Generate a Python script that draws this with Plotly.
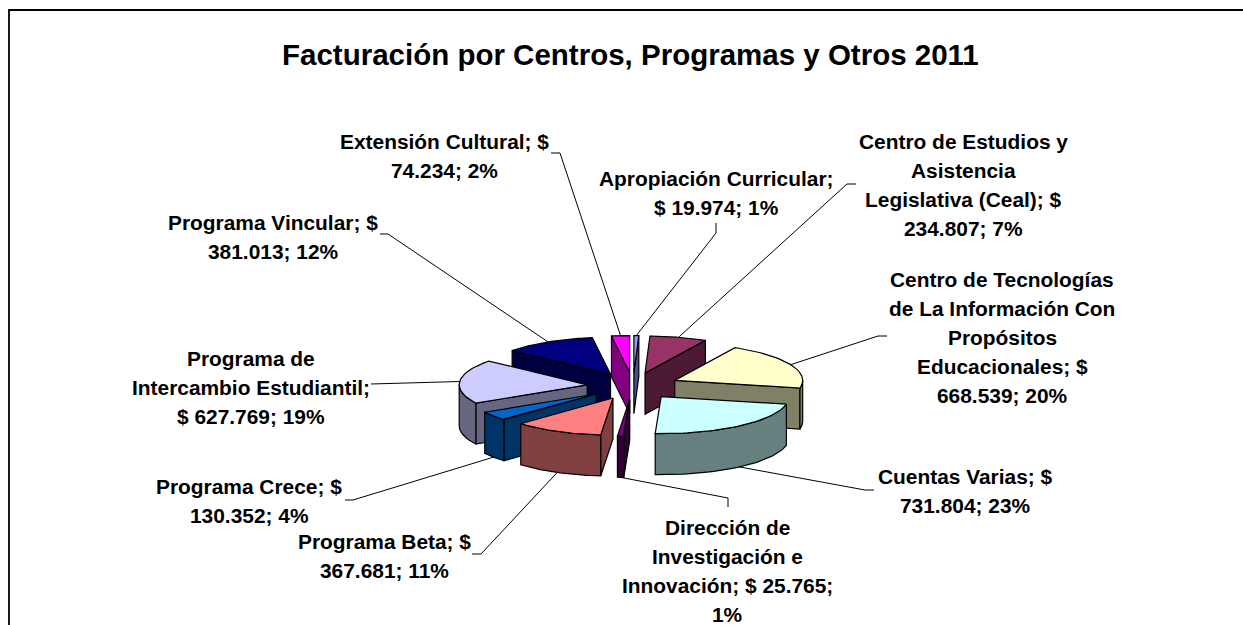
import numpy as np
import plotly.graph_objects as go

# ---- data ----
categories = ["Apropiación Curricular", "Centro de Estudios y Asistencia Legislativa (Ceal)",
              "Centro de Tecnologías de La Información Con Propósitos Educacionales",
              "Cuentas Varias", "Dirección de Investigación e Innovación", "Programa Beta",
              "Programa Crece", "Programa de Intercambio Estudiantil", "Programa Vincular",
              "Extensión Cultural"]
values = [19974, 234807, 668539, 731804, 25765, 367681, 130352, 627769, 381013, 74234]
top_colors = ["#9999FF", "#993366", "#FFFFCC", "#CCFFFF", "#800080", "#FF8080",
              "#0066CC", "#CCCCFF", "#000080", "#FF00FF"]
side_colors = ["#4C4C80", "#4D1A33", "#808066", "#668080", "#330033", "#804040",
               "#003366", "#666680", "#000040", "#800080"]
label_lines = [
    ["Apropiación Curricular;", "$ 19.974; 1%"],
    ["Centro de Estudios y", "Asistencia", "Legislativa (Ceal); $", "234.807; 7%"],
    ["Centro de Tecnologías", "de La Información Con", "Propósitos", "Educacionales; $", "668.539; 20%"],
    ["Cuentas Varias; $", "731.804; 23%"],
    ["Dirección de", "Investigación e", "Innovación; $ 25.765;", "1%"],
    ["Programa Beta; $", "367.681; 11%"],
    ["Programa Crece; $", "130.352; 4%"],
    ["Programa de", "Intercambio Estudiantil;", "$ 627.769; 19%"],
    ["Programa Vincular; $", "381.013; 12%"],
    ["Extensión Cultural; $", "74.234; 2%"],
]
title_text = "Facturación por Centros, Programas y Otros 2011"

# ---- layout of the drawing (pixel-based axes) ----
W, H = 1243, 625
CX, CY, R, TILT, DEPTH, EXPLODE = 633, 386, 128, 0.29, 41, 46
label_x = [716, 963, 1002, 965, 727, 384, 249, 251, 273, 444]
label_y = [178, 141, 279, 476, 527, 541, 486, 358, 222, 141]
LINE_STEP = 29
# label end of each leader line: tip, then elbow
leader_out = [[(716, 223), (716, 233)], [(856, 184), (847, 184)], [(887, 336), (878, 336)],
              [(874, 490), (865, 490)], [(728, 507), (728, 498)], [(472, 554), (481, 554)],
              [(345, 500), (353, 500)], [(371, 384), (379, 384)],
              [(380, 234), (388, 234)], [(551, 153), (560, 153)]]

total = sum(values)
cum = np.concatenate([[0], np.cumsum(values)]) / total * 2 * np.pi


def px(theta, r, off_x, off_y, z=0):
    return (CX + off_x + r * np.sin(theta), CY + off_y - r * TILT * np.cos(theta) + z)


fig = go.Figure()


def poly(pts, color):
    xs, ys = zip(*pts)
    fig.add_trace(go.Scatter(x=list(xs) + [xs[0]], y=list(ys) + [ys[0]], mode="lines", fill="toself",
                             fillcolor=color, line=dict(color="black", width=1.2),
                             hoverinfo="skip", showlegend=False))


wedges = []
for i in range(len(values)):
    a, b = cum[i], cum[i + 1]
    mid = (a + b) / 2
    wedges.append((i, a, b, mid, EXPLODE * np.sin(mid), -EXPLODE * TILT * np.cos(mid)))

for i, a, b, mid, ox, oy in sorted(wedges, key=lambda w: -np.cos(w[3])):
    apex = (CX + ox, CY + oy)
    # radial cut faces
    for theta, visible in ((a, np.sin(a) < 0), (b, np.sin(b) > 0)):
        if visible:
            p = px(theta, R, ox, oy)
            poly([apex, p, (p[0], p[1] + DEPTH), (apex[0], apex[1] + DEPTH)], side_colors[i])
    # outer rim, only the part that faces the viewer
    lo, hi = max(a, np.pi / 2), min(b, 3 * np.pi / 2)
    if hi > lo:
        ts = np.linspace(lo, hi, 40)
        upper = [px(t, R, ox, oy) for t in ts]
        lower = [px(t, R, ox, oy, DEPTH) for t in ts[::-1]]
        poly(upper + lower, side_colors[i])
    # top face
    ts = np.linspace(a, b, 40)
    poly([apex] + [px(t, R, ox, oy) for t in ts], top_colors[i])

# leader lines, from the slice bisector to the label
for i, a, b, mid, ox, oy in wedges:
    front = np.pi / 2 < mid < 3 * np.pi / 2
    start = px(mid, R, ox, oy, DEPTH if front else 0)
    pts = [start] + leader_out[i][::-1]
    fig.add_trace(go.Scatter(x=[p[0] for p in pts], y=[p[1] for p in pts], mode="lines",
                             line=dict(color="black", width=1), hoverinfo="skip", showlegend=False))

annotations = []
for i, lines in enumerate(label_lines):
    for j, line in enumerate(lines):
        annotations.append(dict(x=label_x[i], y=label_y[i] + j * LINE_STEP, text=line, showarrow=False,
                                xanchor="center", yanchor="middle", xref="x", yref="y",
                                font=dict(family="Liberation Sans", size=20.9, color="black", weight="bold")))
annotations.append(dict(x=630, y=54, text=title_text, showarrow=False, xanchor="center", yanchor="middle",
                        xref="x", yref="y", font=dict(family="Liberation Sans", size=29.5, color="black", weight="bold")))

fig.update_layout(
    width=W, height=H, margin=dict(l=0, r=0, t=0, b=0), paper_bgcolor="white", plot_bgcolor="white",
    xaxis=dict(range=[0, W], visible=False, fixedrange=True),
    yaxis=dict(range=[H, 0], visible=False, fixedrange=True),
    annotations=annotations,
    shapes=[dict(type="rect", xref="x", yref="y", x0=9, y0=10, x1=W + 20, y1=H + 20,
                 line=dict(color="black", width=1.8), layer="below")],
)
fig.write_html("out.html", config={"displayModeBar": False},
               post_script="document.body.style.margin='0';document.body.style.overflow='hidden';")
